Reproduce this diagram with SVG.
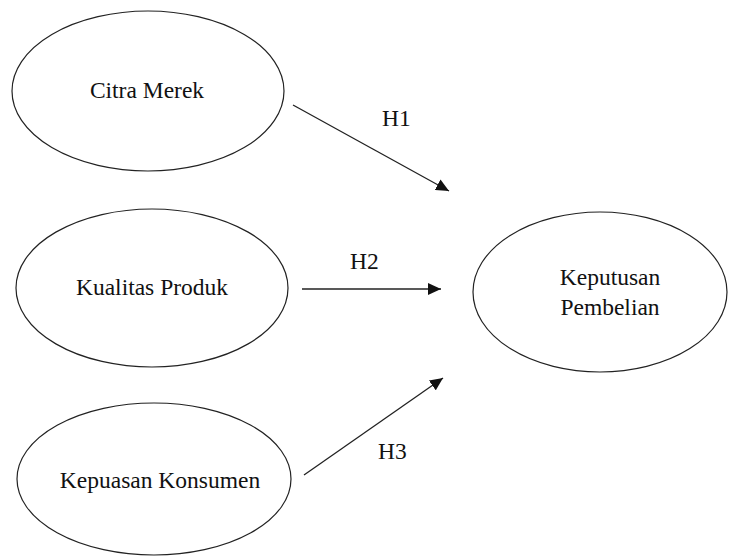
<svg xmlns="http://www.w3.org/2000/svg" width="735" height="558" viewBox="0 0 735 558">
<style>
.node{fill:#fff;stroke:#222;stroke-width:1.2}
.lbl{font-family:"Liberation Serif","Times New Roman",serif;font-size:23.5px;fill:#111}
.edge{stroke:#222;stroke-width:1.3;fill:none}
</style>
<defs>
<marker id="ah" markerUnits="userSpaceOnUse" markerWidth="14" markerHeight="12" refX="13" refY="6" orient="auto">
<path d="M0,0 L13,6 L0,12 Z" fill="#111"/>
</marker>
</defs>
<rect width="735" height="558" fill="#fff"/>
<g id="citra-merek">
<ellipse class="node" cx="148" cy="91" rx="136" ry="80"/>
<text class="lbl" x="147" y="98" text-anchor="middle">Citra Merek</text>
</g>
<g id="kualitas-produk">
<ellipse class="node" cx="152" cy="288" rx="136" ry="79"/>
<text class="lbl" x="152" y="295" text-anchor="middle">Kualitas Produk</text>
</g>
<g id="kepuasan-konsumen">
<ellipse class="node" cx="154" cy="479" rx="137" ry="76"/>
<text class="lbl" x="160" y="488" text-anchor="middle">Kepuasan Konsumen</text>
</g>
<g id="keputusan-pembelian">
<ellipse class="node" cx="600" cy="292" rx="127" ry="80"/>
<text class="lbl" x="610" y="285" text-anchor="middle">Keputusan</text>
<text class="lbl" x="610" y="315" text-anchor="middle">Pembelian</text>
</g>
<g id="connectors">
<line class="edge" x1="293" y1="105" x2="449" y2="191" marker-end="url(#ah)"/>
<line class="edge" x1="302" y1="289" x2="441" y2="289" marker-end="url(#ah)"/>
<line class="edge" x1="304" y1="475" x2="443" y2="378" marker-end="url(#ah)"/>
<text class="lbl" x="382" y="126">H1</text>
<text class="lbl" x="350" y="269">H2</text>
<text class="lbl" x="378" y="459">H3</text>
</g>
</svg>
